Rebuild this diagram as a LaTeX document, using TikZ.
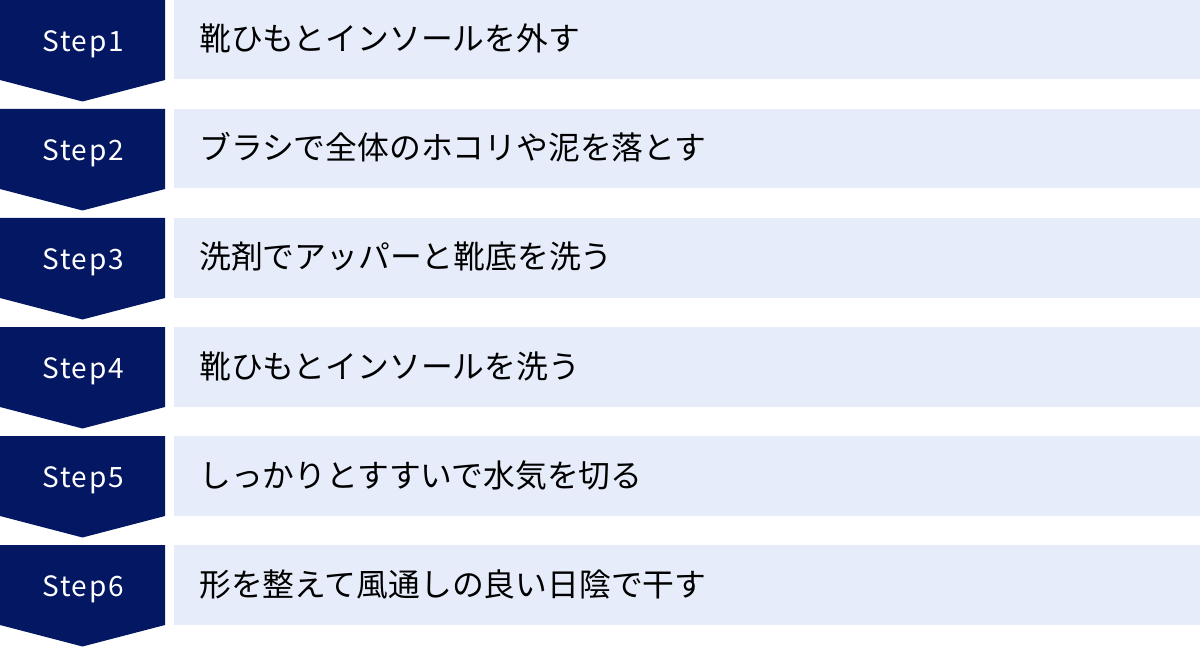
\documentclass[tikz,border=0pt]{standalone}
\usepackage{fontspec}
\newfontfamily\jpfont{Noto Sans CJK JP}
\newfontfamily\stepfont[LetterSpace=6]{Noto Sans CJK JP}
\definecolor{navy}{HTML}{031762}
\definecolor{lightbg}{HTML}{E6ECF9}
\begin{document}
\begin{tikzpicture}[x=1pt,y=-1pt,
  stepshape/.style={fill=navy,draw=none},
  bar/.style={fill=lightbg,draw=none},
  steplabel/.style={text=white,inner sep=0pt,anchor=base,font=\stepfont\fontsize{28}{32}\selectfont},
  desclabel/.style={text=black,inner sep=0pt,anchor=base west,font=\jpfont\fontsize{31.8}{36}\selectfont}]
\useasboundingbox (0,0) rectangle (1200,647);
\foreach \i/\txt in {1/靴ひもとインソールを外す,2/ブラシで全体のホコリや泥を落とす,3/洗剤でアッパーと靴底を洗う,4/靴ひもとインソールを洗う,5/しっかりとすすいで水気を切る,6/形を整えて風通しの良い日陰で干す}{
  \pgfmathsetmacro{\t}{(\i-1)*109}
  \fill[stepshape] (0,\t) -- (165,\t) -- (165,\t+80) -- (82.5,\t+101.5) -- (0,\t+80) -- cycle;
  \fill[bar] (174,\t) rectangle (1200,\t+79.5);
  \node[steplabel] (s\i) at (83,\t+51.5) {Step\i};
  \node[desclabel] (d\i) at (199,\t+51) {\txt};
}
\end{tikzpicture}
\end{document}
